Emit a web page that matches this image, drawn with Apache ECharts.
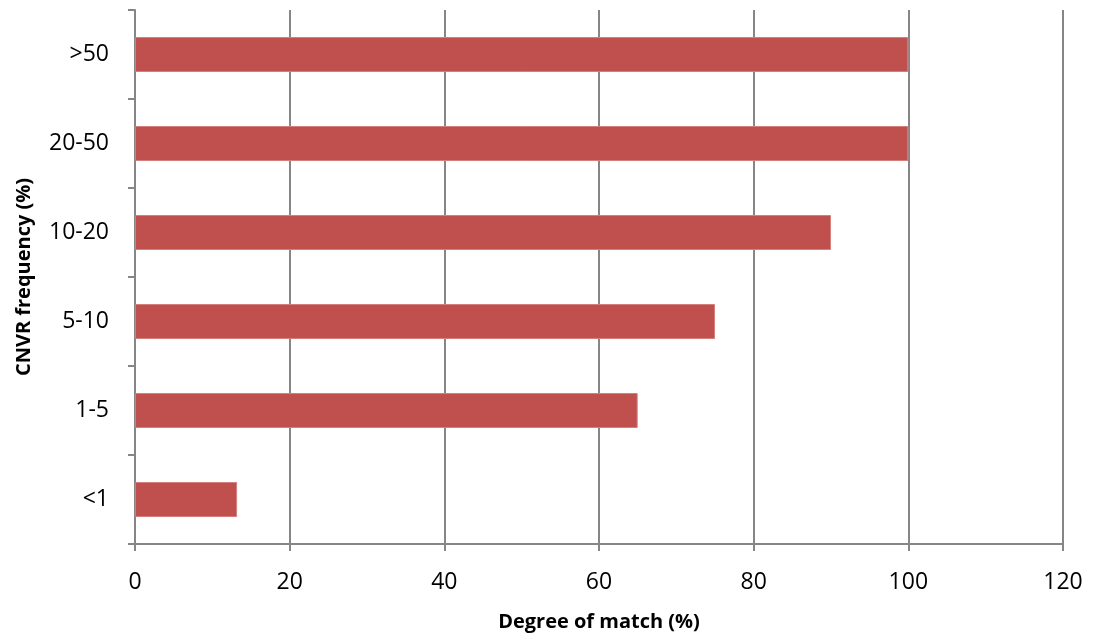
<!DOCTYPE html>
<html>
<head>
<meta charset="utf-8">
<script src="https://cdn.jsdelivr.net/npm/echarts@6/dist/echarts.min.js"></script>
<style>
  html, body { margin: 0; padding: 0; background: #fff; }
  #chart { width: 1094px; height: 637px; }
</style>
</head>
<body>
<div id="chart"></div>
<script>
// categories, bottom to top
const categories = ['<1', '1-5', '5-10', '10-20', '20-50', '>50'];
// degree of match (%)
const matchValues = [13.2, 65, 75, 90, 100, 100];

const myChart = echarts.init(document.getElementById('chart'));
const fontFamily = 'Open Sans, Noto Sans, sans-serif';

myChart.setOption({
  animation: false,
  grid: { left: 135, right: 31, top: 10, bottom: 89 },
  xAxis: {
    type: 'value',
    min: 0,
    max: 120,
    interval: 20,
    name: 'Degree of match (%)',
    nameLocation: 'middle',
    nameGap: 68,
    nameTextStyle: { fontFamily: fontFamily, fontSize: 20, fontWeight: 'bold', color: '#000' },
    axisLine: { show: true, lineStyle: { color: '#868686', width: 2 } },
    axisTick: { show: true, length: 7, lineStyle: { color: '#868686', width: 2 } },
    axisLabel: { fontFamily: fontFamily, fontSize: 23, color: '#000', margin: 27 },
    splitLine: { show: true, lineStyle: { color: '#868686', width: 2 } }
  },
  yAxis: {
    type: 'category',
    data: categories,
    name: 'CNVR frequency (%)',
    nameLocation: 'middle',
    nameGap: 101,
    nameRotate: 90,
    nameTextStyle: { fontFamily: fontFamily, fontSize: 20, fontWeight: 'bold', color: '#000' },
    axisLine: { show: true, lineStyle: { color: '#868686', width: 2 } },
    axisTick: { show: true, length: 7, lineStyle: { color: '#868686', width: 2 } },
    axisLabel: { fontFamily: fontFamily, fontSize: 23, color: '#000', margin: 26 },
    splitLine: { show: false }
  },
  series: [
    {
      type: 'bar',
      data: matchValues,
      barWidth: 35,
      itemStyle: { color: '#C0504D', borderColor: '#D47F7C', borderWidth: 1 }
    }
  ]
});
</script>
</body>
</html>
